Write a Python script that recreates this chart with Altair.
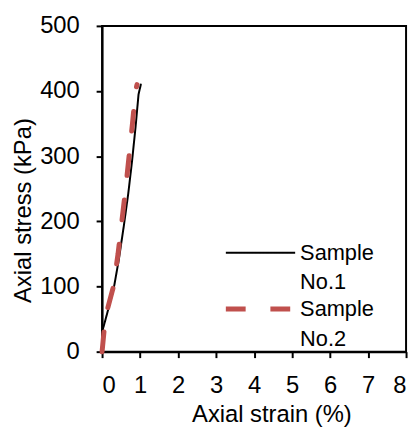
import altair as alt
import pandas as pd

series_names = ["Sample\nNo.1", "Sample\nNo.2"]
strain_1 = [0.0, 0.14, 0.31, 0.44, 0.57, 0.69, 0.79, 0.88, 0.96, 1.02]
stress_1 = [30, 60, 98, 141, 192, 243, 293, 344, 395, 410]
strain_2 = [0.0, 0.05, 0.14, 0.30, 0.42, 0.52, 0.62, 0.71, 0.80, 0.88, 0.92]
stress_2 = [0, 30, 65, 100, 150, 200, 250, 300, 350, 400, 410]

rows = []
for i, (s, t) in enumerate(zip(strain_1, stress_1)):
    rows.append({"series": series_names[0], "strain": s, "stress": t, "order": i})
for i, (s, t) in enumerate(zip(strain_2, stress_2)):
    rows.append({"series": series_names[1], "strain": s, "stress": t, "order": i})
df = pd.DataFrame(rows)

FONT = "Liberation Sans"

legend = alt.Legend(
    title=None,
    orient="none",
    legendX=149,
    legendY=218,
    symbolType="M-7,0L7,0",
    symbolSize=100,
    symbolFillColor="transparent",
    labelFont=FONT,
    labelFontSize=22,
    labelColor="black",
    labelExpr="split(datum.label, '\\n')",
    labelBaseline="middle",
    labelOffset=29,
    rowPadding=5,
    padding=0,
)

chart = alt.Chart(df).mark_line(strokeCap="round").encode(
    x=alt.X("strain:Q", title="Axial strain (%)",
            scale=alt.Scale(domain=[0, 8], nice=False),
            axis=alt.Axis(values=list(range(0, 9)), titlePadding=6, labelPadding=16, titleX=171)),
    y=alt.Y("stress:Q", title="Axial stress (kPa)",
            scale=alt.Scale(domain=[0, 500], nice=False),
            axis=alt.Axis(values=[0, 100, 200, 300, 400, 500], labelPadding=17, titlePadding=4, titleY=186)),
    color=alt.Color("series:N", scale=alt.Scale(domain=series_names, range=["#000000", "#C0504D"]), legend=legend),
    strokeDash=alt.StrokeDash("series:N", scale=alt.Scale(domain=series_names, range=[[1, 0], [20, 25]]), legend=legend),
    strokeWidth=alt.StrokeWidth("series:N", scale=alt.Scale(domain=series_names, range=[2, 5]), legend=legend),
    order="order:Q",
).properties(
    width=307,
    height=329,
    autosize=alt.AutoSizeParams(type="none"),
    padding={"left": 95, "top": 16, "right": 6, "bottom": 74},
).configure(
    style={"guide-label": {"lineHeight": 30}}
).configure_view(
    stroke="black", strokeWidth=2
).configure_axis(
    grid=False,
    domainColor="black",
    domainWidth=2,
    tickColor="black",
    tickWidth=2,
    tickSize=6,
    labelFont=FONT,
    labelFontSize=24,
    labelColor="black",
    titleFont=FONT,
    titleFontSize=24,
    titleFontWeight="normal",
    titleColor="black",
)

chart.save("out.html", embed_options={"renderer": "svg", "actions": False})
